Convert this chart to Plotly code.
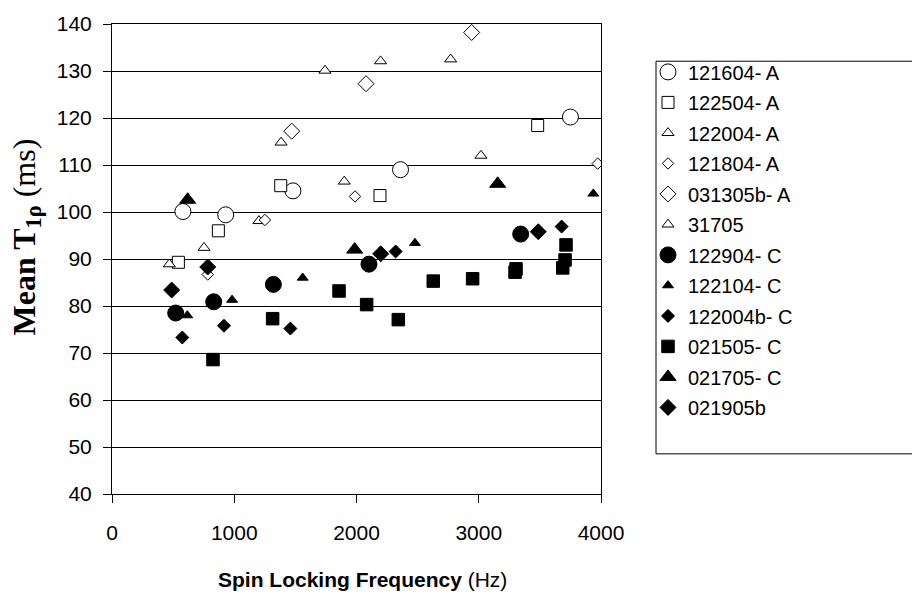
import plotly.graph_objects as go

# ---- data ----
x_121604A = [580, 930, 1480, 2360, 3750]
y_121604A = [100.1, 99.4, 104.5, 109.0, 120.2]

x_122504A = [543, 870, 1380, 2192, 3482]
y_122504A = [89.3, 96.0, 105.6, 103.5, 118.4]

x_122004A = [469, 753, 1202, 1900, 3018]
y_122004A = [88.9, 92.4, 98.1, 106.5, 112.0]

x_121804A = [783, 1251, 1988, 3973]
y_121804A = [86.7, 98.3, 103.3, 110.3]

x_031305bA = [1470, 2078, 2942]
y_031305bA = [117.2, 127.3, 138.2]

x_31705 = [1383, 1742, 2197, 2770]
y_31705 = [114.8, 130.1, 132.1, 132.5]

x_122904C = [521, 832, 1320, 2102, 3343]
y_122904C = [78.5, 80.9, 84.6, 88.9, 95.3]

x_122104C = [616, 982, 1560, 2478, 3937]
y_122104C = [78.0, 81.3, 86.0, 93.4, 103.9]

x_122004bC = [575, 916, 1459, 2320, 3678]
y_122004bC = [73.3, 75.8, 75.2, 91.6, 96.9]

x_021505C = [826, 1314, 1857, 2083, 2342, 2628, 2950, 3297, 3305, 3687, 3706, 3714]
y_021505C = [68.6, 77.3, 83.2, 80.3, 77.1, 85.3, 85.8, 87.2, 87.9, 88.1, 89.8, 93.0]

x_021705C = [619, 1985, 3155]
y_021705C = [102.6, 92.0, 106.0]

x_021905b = [488, 783, 2198, 3487]
y_021905b = [83.4, 88.3, 91.1, 95.8]

series_names = ["121604- A", "122504- A", "122004- A", "121804- A", "031305b- A", "31705",
                "122904- C", "122104- C", "122004b- C", "021505- C", "021705- C", "021905b"]

x_ticks = [0, 1000, 2000, 3000, 4000]
y_ticks = [40, 50, 60, 70, 80, 90, 100, 110, 120, 130, 140]

# ---- styles ----
series = [
    (x_121604A, y_121604A, "circle", 16, "white"),
    (x_122504A, y_122504A, "square", 12, "white"),
    (x_122004A, y_122004A, "triangle-up", 10.5, "white"),
    (x_121804A, y_121804A, "diamond", 8.8, "white"),
    (x_031305bA, y_031305bA, "diamond", 12.3, "white"),
    (x_31705, y_31705, "triangle-up", 10.5, "white"),
    (x_122904C, y_122904C, "circle", 16, "black"),
    (x_122104C, y_122104C, "triangle-up", 9.5, "black"),
    (x_122004bC, y_122004bC, "diamond", 10, "black"),
    (x_021505C, y_021505C, "square", 12.5, "black"),
    (x_021705C, y_021705C, "triangle-up", 14, "black"),
    (x_021905b, y_021905b, "diamond", 12.3, "black"),
]

W, H = 912, 600
L, R, T, B = 112, 311, 14, 106
PW, PH = W - L - R, H - T - B

def px(x):
    return (x - L) / PW

def py(y):
    return (H - B - y) / PH

fig = go.Figure()
for name, (xs, ys, sym, size, fill) in zip(series_names, series):
    fig.add_trace(go.Scatter(
        x=xs, y=ys, mode="markers", name=name, legendgroup=name,
        marker=dict(symbol=sym, size=size, color=fill,
                    line=dict(color="black", width=1)),
    ))

sans = "Liberation Sans, Arial, sans-serif"
serif = "Liberation Serif, Times New Roman, serif"

fig.update_layout(
    width=W, height=H,
    margin=dict(l=L, r=R, t=T, b=B, pad=0),
    paper_bgcolor="white", plot_bgcolor="white",
    font=dict(family=sans, size=21, color="black"),
    showlegend=True,
    legend=dict(
        x=px(648), y=py(43), xanchor="left", yanchor="top",
        font=dict(family=sans, size=20, color="black"),
        bgcolor="rgba(0,0,0,0)", borderwidth=0,
        tracegroupgap=1.5, itemsizing="trace",
    ),
    xaxis=dict(
        range=[0, 4000], tickvals=x_ticks, showgrid=False, zeroline=False,
        showline=True, linecolor="black", linewidth=1, mirror=True,
        ticks="outside", ticklen=8, tickcolor="black", tickwidth=1,
        ticklabelstandoff=12,
        tickfont=dict(family=sans, size=21, color="black"),
    ),
    yaxis=dict(
        range=[40, 140], tickvals=y_ticks, showgrid=True, gridcolor="black",
        gridwidth=1, zeroline=False,
        showline=True, linecolor="black", linewidth=1, mirror=True,
        ticks="outside", ticklen=8, tickcolor="black", tickwidth=1,
        ticklabelstandoff=7,
        tickfont=dict(family=sans, size=21, color="black"),
    ),
    shapes=[dict(type="rect", xref="paper", yref="paper",
                 x0=px(656), x1=px(920), y0=py(52), y1=py(453),
                 line=dict(color="black", width=1), fillcolor="rgba(0,0,0,0)",
                 layer="below")],
    annotations=[
        dict(text="<b>Spin Locking Frequency</b> (Hz)", xref="paper", yref="paper",
             x=px(362), y=py(581), xanchor="center", yanchor="middle",
             showarrow=False, font=dict(family=sans, size=21, color="black")),
        dict(text="<b>Mean T<sub>1ρ</sub></b> (ms)", xref="paper", yref="paper",
             x=px(26), y=py(232), xanchor="center", yanchor="middle", textangle=-90,
             showarrow=False, font=dict(family=serif, size=32, color="black")),
    ],
)

fig.write_html("out.html")
